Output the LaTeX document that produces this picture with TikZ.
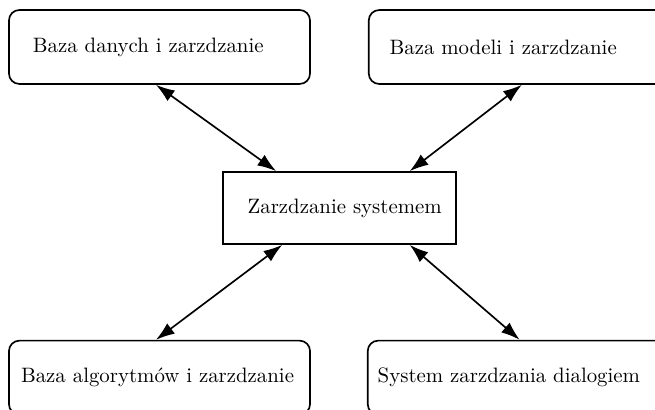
\documentclass[tikz,border=0pt]{standalone}
\usepackage{tikz}
\usetikzlibrary{positioning,arrows.meta}

\begin{document}
\begin{tikzpicture}[x=0.48pt, y=-0.48pt,
    modul/.style={
        draw=black,
        rectangle,
        line width=0.8pt,
        rounded corners=5pt,
        minimum height=35.5pt,
        inner xsep=#1,
        text width=144.5pt-2*#1,
        align=left
    },
    centrum/.style={
        draw=black,
        rectangle,
        line width=0.8pt,
        minimum width=111.8pt,
        minimum height=34.6pt,
        inner sep=0pt,
        align=center
    },
    strzalka/.style={
        <->,
        >={Latex[length=9pt,width=6.2pt]},
        line width=0.8pt
    },
    node distance=27pt
]
    % picture frame
    \useasboundingbox (0,0) rectangle (655,410);

    % central box
    \node[centrum] (system) at (339.5,208) {\hspace*{5pt}Zarzdzanie systemem};

    % upper modules
    \node[modul=11.5pt] (dane) at (159.5,47) {Baza danych i zarzdzanie};
    \node[modul=10pt] (modele) [right=27.4pt of dane] {Baza modeli i zarzdzanie};

    % lower modules
    \node[modul=5.8pt] (algorytmy) [below=122.4pt of dane] {Baza algorytmów i zarzdzanie};
    \node[modul=4.8pt] (dialog) [right=26.9pt of algorytmy] {System zarzdzania dialogiem};

    % two-way links
    \draw[strzalka] ([xshift=-1.7pt]dane.south) -- ([xshift=25.9pt]system.north west);
    \draw[strzalka] ([xshift=1.2pt]modele.south) -- ([xshift=-22.6pt]system.north east);
    \draw[strzalka] ([xshift=-1.7pt]algorytmy.north) -- ([xshift=28.8pt]system.south west);
    \draw[strzalka] ([xshift=0.7pt]dialog.north) -- ([xshift=-22.6pt]system.south east);
\end{tikzpicture}
\end{document}
